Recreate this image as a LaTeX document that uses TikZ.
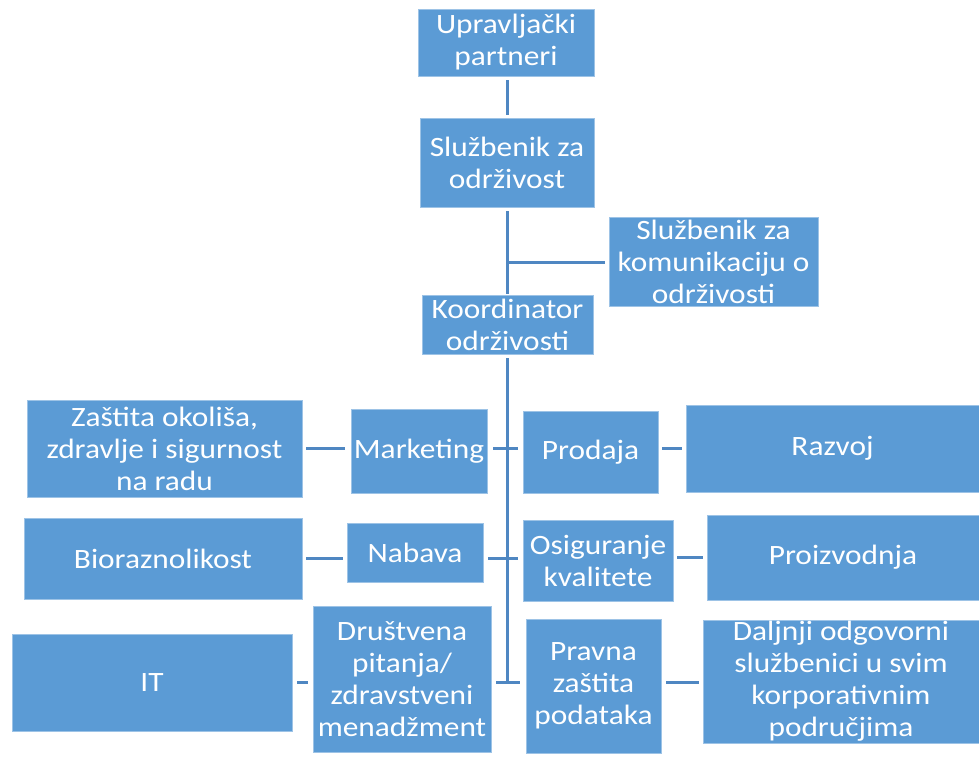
\documentclass[tikz,border=0pt]{standalone}
\usepackage{fontspec}
\setmainfont{Carlito}[FakeStretch=1.12]
\usetikzlibrary{positioning}
\definecolor{boxblue}{HTML}{5B9BD5}
\definecolor{linkblue}{HTML}{4F87C2}
\tikzset{
  orgbox/.style={rectangle,fill=boxblue,draw=boxblue!60!white,line width=0.6pt,
    inner sep=0pt,align=center,text=white,
    font=\fontsize{28}{32}\selectfont},
  link/.style={draw=linkblue,line width=3pt},
}

\begin{document}
\begin{tikzpicture}[x=1pt,y=-1pt]
  \useasboundingbox (0,0) rectangle (979,757);
  % top of the chart
  \node[orgbox,minimum width=176,minimum height=67] (upr)    at (506,42.5)    {Upravljački\\partneri};
  \node[orgbox,minimum width=174,minimum height=89] (sluzb)  at (507,162.5)   {Službenik za\\održivost};
  \node[orgbox,minimum width=209,minimum height=89] (komun)  at (713.5,261.5) {Službenik za\\komunikaciju o\\održivosti};
  \node[orgbox,minimum width=171,minimum height=59] (koord)  at (507.5,324.5) {Koordinator\\održivosti};
  % left side
  \node[orgbox,minimum width=275,minimum height=97]  (zast) at (164.5,448.5) {Zaštita okoliša,\\zdravlje i sigurnost\\na radu};
  \node[orgbox,minimum width=136,minimum height=84]  (mark) at (419,451)     {Marketing};
  \node[orgbox,minimum width=278,minimum height=81]  (bio)  at (163,558.5)   {Bioraznolikost};
  \node[orgbox,minimum width=136,minimum height=59]  (nab)  at (415,552.5)   {Nabava};
  \node[orgbox,minimum width=280,minimum height=97]  (it)   at (152,682.5)   {IT};
  \node[orgbox,minimum width=178,minimum height=146] (drus) at (402,679)     {Društvena\\pitanja/\\zdravstveni\\menadžment};
  % right side
  \node[orgbox,minimum width=135,minimum height=82]  (prod)  at (590.5,452)   {Prodaja};
  \node[orgbox,minimum width=293,minimum height=87]  (razv)  at (832.5,448.5) {Razvoj};
  \node[orgbox,minimum width=150,minimum height=81]  (osig)  at (598,560.5)   {Osiguranje\\kvalitete};
  \node[orgbox,minimum width=272,minimum height=85]  (proiz) at (843,557.5)   {Proizvodnja};
  \node[orgbox,minimum width=135,minimum height=134] (prav)  at (593.5,686)   {Pravna\\zaštita\\podataka};
  \node[orgbox,minimum width=276,minimum height=123] (dalj)  at (841,681.5)   {Daljnji odgovorni\\službenici u svim\\korporativnim\\područjima};

  % joints on the trunk
  \coordinate (jk) at (507,262);
  \coordinate (j1) at (507,448);
  \coordinate (j2) at (507,558);
  \coordinate (j3) at (507,682);

  \begin{scope}[link]
    \draw[shorten <=4pt,shorten >=3pt] (upr.south -| j1) -- (sluzb.north -| j1);
    \draw[shorten <=4pt,shorten >=1pt] (sluzb.south -| j1) -- (koord.north -| j1);
    \draw[shorten >=4pt] (jk) -- (komun.west |- jk);
    \draw[shorten <=4pt] (koord.south -| j1) -- (j3);
    % rows across the trunk
    \draw[shorten <=6pt,shorten >=5pt] (mark.east |- j1) -- (prod.west |- j1);
    \draw[shorten <=5pt,shorten >=5pt] (nab.east |- j2) -- (osig.west |- j2);
    \draw[shorten <=5pt,shorten >=6pt] (drus.east |- j3) -- (prav.west |- j3);
    % outer boxes
    \draw[shorten <=4pt,shorten >=6pt] (zast.east |- j1) -- (mark.west |- j1);
    \draw[shorten <=4pt,shorten >=4pt] (bio.east |- j2) -- (nab.west |- j2);
    \draw[shorten <=5pt,shorten >=5pt] (it.east |- j3) -- (drus.west |- j3);
    \draw[shorten <=4pt,shorten >=4pt] (prod.east |- j1) -- (razv.west |- j1);
    \draw[shorten <=4pt,shorten >=4pt] (osig.east |- proiz) -- (proiz.west);
    \draw[shorten <=5pt,shorten >=4pt] (prav.east |- j3) -- (dalj.west |- j3);
  \end{scope}
\end{tikzpicture}
\end{document}
